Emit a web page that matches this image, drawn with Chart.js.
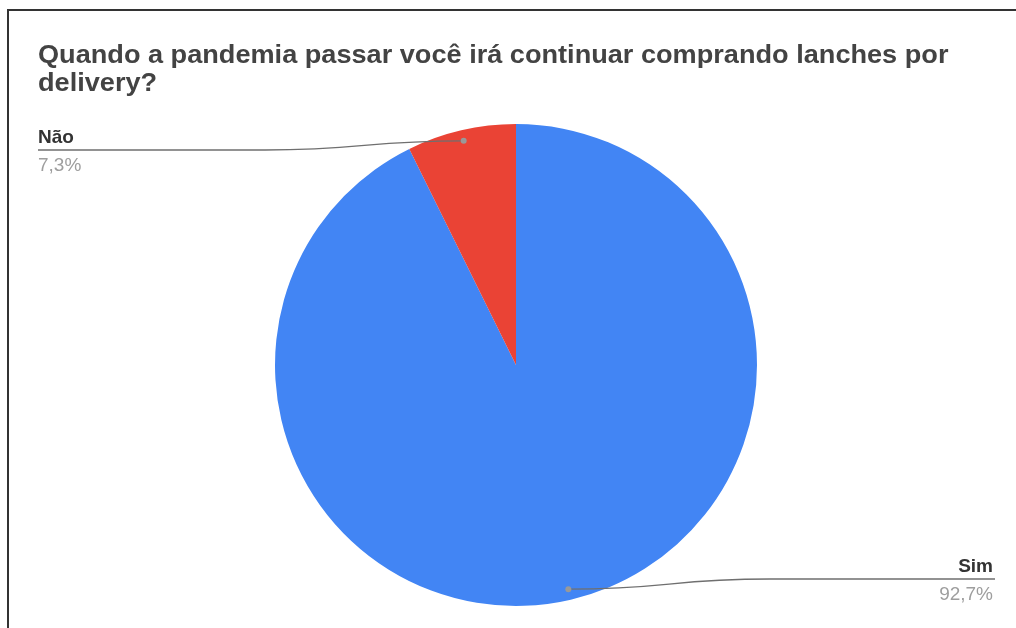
<!DOCTYPE html>
<html>
<head>
<meta charset="utf-8">
<script src="https://cdn.jsdelivr.net/npm/chart.js@4"></script>
<style>
html,body{margin:0;padding:0;background:#fff;overflow:hidden;}
#wrap{position:relative;width:1016px;height:628px;}
#frame{position:absolute;left:7px;top:9px;right:-10px;bottom:-10px;border-left:2px solid #333;border-top:2px solid #333;pointer-events:none;}
canvas{position:absolute;left:0;top:0;}
</style>
</head>
<body>
<div id="wrap">
<canvas id="c" width="1016" height="628"></canvas>
<div id="frame"></div>
</div>
<script>
const titleLines = ['Quando a pandemia passar você irá continuar comprando lanches por', 'delivery?'];
const categories = ['Sim', 'Não'];
const values = [92.7, 7.3];
const percentLabels = ['92,7%', '7,3%'];
const colors = ['#4285F4', '#EA4335'];

const FONT = '"Liberation Sans", Arial, sans-serif';

const overlay = {
  id: 'overlay',
  afterDraw(chart) {
    const ctx = chart.ctx;
    ctx.save();
    // title (slightly widened glyphs, as in the reference)
    ctx.save();
    ctx.translate(38, 0);
    ctx.scale(1.085, 1);
    ctx.fillStyle = '#434343';
    ctx.font = 'bold 25px ' + FONT;
    ctx.textAlign = 'left';
    ctx.textBaseline = 'alphabetic';
    ctx.fillText(titleLines[0], 0, 63);
    ctx.fillText(titleLines[1], 0, 91);
    ctx.restore();

    const meta = chart.getDatasetMeta(0);
    meta.data.forEach((arc, i) => {
      const mid = (arc.startAngle + arc.endAngle) / 2;
      const rr = arc.outerRadius * 0.955;
      const px = arc.x + Math.cos(mid) * rr;
      const py = arc.y + Math.sin(mid) * rr;
      const right = Math.cos(mid) > 0;
      let lineY, xEnd, xBend, nameY, pctY;
      if (right) {
        lineY = 579; xEnd = 995; xBend = 770; nameY = 572; pctY = 600;
      } else {
        lineY = 150; xEnd = 38; xBend = 265; nameY = 143; pctY = 171;
      }
      // leader line
      ctx.strokeStyle = '#6f6f6f';
      ctx.lineWidth = 1.3;
      ctx.beginPath();
      ctx.moveTo(px, py);
      const cx = (px + xBend) / 2;
      ctx.bezierCurveTo(cx, py, cx, lineY, xBend, lineY);
      ctx.lineTo(xEnd, lineY);
      ctx.stroke();
      // dot
      ctx.fillStyle = '#999';
      ctx.beginPath();
      ctx.arc(px, py, 3, 0, Math.PI * 2);
      ctx.fill();
      // texts
      ctx.textAlign = right ? 'right' : 'left';
      const tx = right ? 993 : 38;
      ctx.fillStyle = '#333';
      ctx.font = 'bold 19px ' + FONT;
      ctx.fillText(categories[i], tx, nameY);
      ctx.fillStyle = '#9e9e9e';
      ctx.font = '19px ' + FONT;
      ctx.fillText(percentLabels[i], tx, pctY);
    });
    ctx.restore();
  }
};

new Chart(document.getElementById('c'), {
  type: 'pie',
  data: {
    labels: categories,
    datasets: [{
      data: values,
      backgroundColor: colors,
      borderWidth: 0,
      hoverOffset: 0
    }]
  },
  options: {
    responsive: false,
    animation: false,
    rotation: 0,
    layout: { padding: { top: 124, bottom: 22, left: 275, right: 259 } },
    plugins: {
      legend: { display: false },
      tooltip: { enabled: false },
      title: { display: false }
    }
  },
  plugins: [overlay]
});
</script>
</body>
</html>
